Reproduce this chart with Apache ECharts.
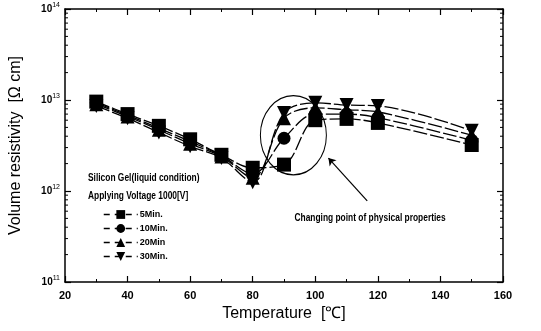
<!DOCTYPE html>
<html lang="en">
<head>
	<meta charset="UTF-8">
	<title>Volume resistivity</title>
	<style>html,body{margin:0;padding:0;background:#fff}</style>
</head>
<body>
	<div id="main" style="width: 541px;height: 331px"></div>
	<script src="https://cdn.jsdelivr.net/npm/echarts@6/dist/echarts.min.js"></script>
	<script>
		var temps = [30, 40, 50, 60, 70, 80, 90, 100, 110, 120, 150]
		var min5 = [9.6e12, 7.0e12, 5.2e12, 3.7e12, 2.5e12, 1.8e12, 1.95e12, 6.0e12, 6.2e12, 5.6e12, 3.2e12]
		var min10 = [9.3e12, 6.8e12, 4.9e12, 3.5e12, 2.45e12, 1.55e12, 3.8e12, 7.0e12, 7.0e12, 6.4e12, 3.6e12]
		var min20 = [9.0e12, 6.6e12, 4.7e12, 3.3e12, 2.4e12, 1.4e12, 6.3e12, 8.2e12, 7.8e12, 7.4e12, 4.1e12]
		var min30 = [8.6e12, 6.3e12, 4.4e12, 3.1e12, 2.3e12, 1.25e12, 7.2e12, 9.3e12, 8.8e12, 8.6e12, 4.6e12]
		var names = ['5Min.', '10Min.', '20Min', '30Min.']
		var symbols = ['rect', 'circle', 'triangle', 'path://M0,0 L10,0 L5,10 Z']
		var yExps = [11, 12, 13, 14]

		var font = 'Liberation Sans, Arial, sans-serif'

		function pairs(vals) {
			return temps.map(function (t, i) { return [t, vals[i]] })
		}

		function mkSeries(i, vals) {
			return {
				name: names[i],
				type: 'line',
				data: pairs(vals),
				smooth: 0.35,
				symbol: symbols[i],
				symbolSize: i == 1 ? 13 : 14,
				itemStyle: { color: '#000' },
				lineStyle: { color: '#000', width: 1.3, type: [14, 3] },
				z: 3
			}
		}

		var series = [mkSeries(0, min5), mkSeries(1, min10), mkSeries(2, min20), mkSeries(3, min30)]
		// arrow pointing at the circle
		series[0].markLine = {
			silent: true,
			symbol: ['none', 'arrow'],
			symbolSize: 7,
			label: { show: false },
			lineStyle: { color: '#000', width: 1.2, type: 'solid' },
			data: [[{ coord: [116.6, 7.8e11] }, { coord: [104.2, 2.3e12] }]]
		}

		var tickStyle = { show: true, inside: true, length: 6, lineStyle: { color: '#000', width: 1.2 } }
		var minorStyle = { show: true, splitNumber: 2, length: 3, lineStyle: { color: '#000', width: 1 } }

		var myChart = echarts.init(document.getElementById('main'));
		var option = {
			animation: false,
			backgroundColor: '#fff',
			grid: { left: 64, right: 38, top: 9, bottom: 49 },
			legend: {
				orient: 'vertical',
				left: 98,
				top: 205,
				itemGap: 5,
				itemWidth: 34,
				itemHeight: 11,
				data: names,
				lineStyle: { type: [6, 5], width: 1.5 },
				textStyle: { fontFamily: font, fontSize: 9, fontWeight: 'bold', color: '#000', padding: [0, 0, 0, -3], letterSpacing: -0.5 }
			},
			xAxis: [{
				type: 'value', min: 20, max: 160, interval: 20,
				name: 'Temperature  [\u2103]', nameLocation: 'middle', nameGap: 23,
				nameTextStyle: { fontFamily: font, fontSize: 16, color: '#000' },
				axisLine: { lineStyle: { color: '#000', width: 1.5 } },
				axisTick: tickStyle, minorTick: minorStyle,
				axisLabel: { color: '#000', fontFamily: font, fontWeight: 'bold', fontSize: 11, margin: 8, letterSpacing: -1 },
				splitLine: { show: false }
			}, {
				type: 'value', min: 20, max: 160, interval: 20, position: 'top',
				axisLine: { lineStyle: { color: '#000', width: 1.5 } },
				axisTick: tickStyle, minorTick: minorStyle,
				axisLabel: { show: false }, splitLine: { show: false }
			}],
			yAxis: [{
				type: 'log', logBase: 10, min: 1e11, max: 1e14,
				name: 'Volume resistivity  [\u03A9 cm]', nameLocation: 'middle', nameGap: 41,
				nameTextStyle: { fontFamily: font, fontSize: 16, color: '#000' },
				axisLine: { lineStyle: { color: '#000', width: 1.5 } },
				axisTick: tickStyle,
				axisLabel: {
					color: '#000', margin: 5,
					formatter: function (v) {
						var e = Math.round(Math.log(v) / Math.LN10)
						return '{b|10}{s|' + e + '}'
					},
					rich: {
						b: { fontFamily: font, fontWeight: 'bold', fontSize: 10, color: '#000', letterSpacing: -1 },
						s: { fontFamily: font, fontSize: 7, color: '#000', verticalAlign: 'bottom', padding: [0, 0, 7, 0] }
					}
				},
				splitLine: { show: false }
			}, {
				type: 'log', logBase: 10, min: 1e11, max: 1e14, position: 'right',
				axisLine: { lineStyle: { color: '#000', width: 1.5 } },
				axisTick: tickStyle, axisLabel: { show: false }, splitLine: { show: false }
			}],
			series: series
		};
		myChart.setOption(option);

		// log minor ticks (2..9 of each decade) on both y axes, plus annotations
		var els = []
		var gx0 = myChart.convertToPixel({ xAxisIndex: 0 }, 20)
		var gx1 = myChart.convertToPixel({ xAxisIndex: 0 }, 160)
		for (var d = 0; d < yExps.length - 1; d++) {
			for (var m = 2; m <= 9; m++) {
				var py = myChart.convertToPixel({ yAxisIndex: 0 }, m * Math.pow(10, yExps[d]))
				els.push({ type: 'line', shape: { x1: gx0, y1: py, x2: gx0 + 3, y2: py }, style: { stroke: '#000', lineWidth: 1 } })
				els.push({ type: 'line', shape: { x1: gx1, y1: py, x2: gx1 - 3, y2: py }, style: { stroke: '#000', lineWidth: 1 } })
			}
		}
		var c = myChart.convertToPixel({ xAxisIndex: 0, yAxisIndex: 0 }, [93, 4.1e12])
		els.push({ type: 'circle', shape: { cx: 0, cy: 0, r: 33 }, x: c[0], y: c[1], scaleY: 1.2, style: { fill: 'none', stroke: '#000', lineWidth: 1 }, z: 5 })
		var t = myChart.convertToPixel({ xAxisIndex: 0, yAxisIndex: 0 }, [117.5, 5e11])
		els.push({ type: 'text', x: t[0], y: t[1], scaleX: 0.84, style: { text: 'Changing point of physical properties', fontFamily: font, fontSize: 10, fontWeight: 'bold', fill: '#000', align: 'center', verticalAlign: 'middle' } })
		els.push({ type: 'text', x: 88, y: 178, scaleX: 0.84, style: { text: 'Silicon Gel(liquid condition)', fontFamily: font, fontSize: 10, fontWeight: 'bold', fill: '#000', verticalAlign: 'middle' } })
		els.push({ type: 'text', x: 88, y: 196, scaleX: 0.84, style: { text: 'Applying Voltage 1000[V]', fontFamily: font, fontSize: 10, fontWeight: 'bold', fill: '#000', verticalAlign: 'middle' } })
		myChart.setOption({ graphic: els })
	</script>
</body>
</html>
